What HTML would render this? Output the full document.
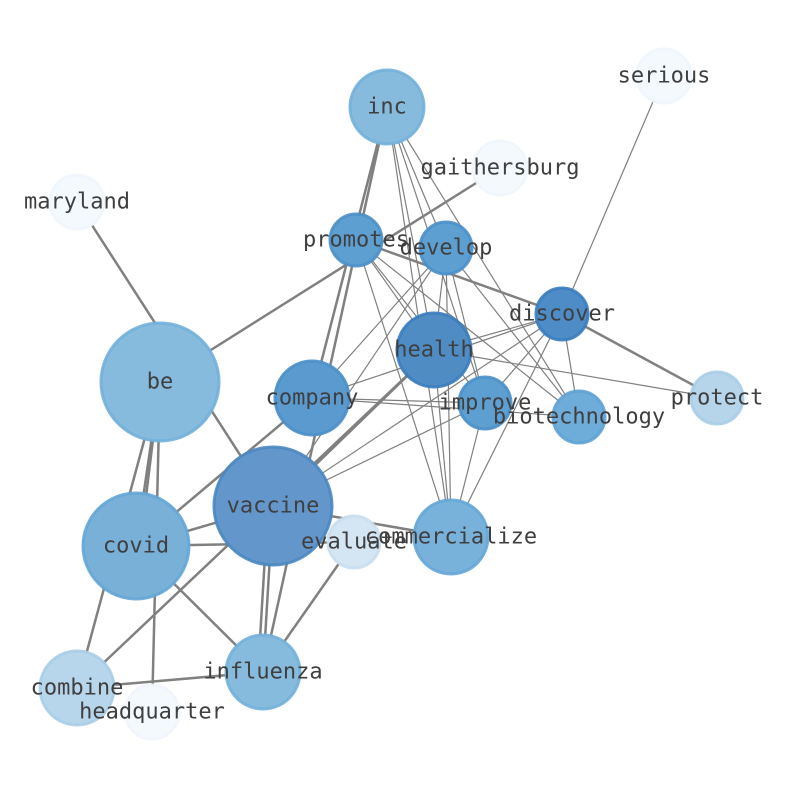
<!DOCTYPE html>
<html><head><meta charset="utf-8"><style>body{margin:0;background:#fff}svg{display:block}</style></head><body>
<svg width="794" height="790" viewBox="0 0 794 790" xmlns="http://www.w3.org/2000/svg">
<g stroke="#808080" stroke-width="1.2" fill="none">
<line x1="387" y1="107" x2="446" y2="248"/><line x1="387" y1="107" x2="434" y2="350"/>
<line x1="387" y1="107" x2="485" y2="403"/><line x1="387" y1="107" x2="579" y2="417"/>
<line x1="387" y1="107" x2="451" y2="537"/>
<line x1="356" y1="240" x2="434" y2="350"/><line x1="356" y1="240" x2="485" y2="403"/>
<line x1="356" y1="240" x2="579" y2="417"/><line x1="356" y1="240" x2="451" y2="537"/>
<line x1="446" y1="248" x2="434" y2="350"/><line x1="446" y1="248" x2="312" y2="398"/>
<line x1="446" y1="248" x2="451" y2="537"/><line x1="446" y1="248" x2="579" y2="417"/>
<line x1="446" y1="248" x2="485" y2="403"/><line x1="446" y1="248" x2="273" y2="506"/>
<line x1="562" y1="314" x2="664" y2="76"/><line x1="562" y1="314" x2="434" y2="350"/>
<line x1="562" y1="314" x2="312" y2="398"/><line x1="562" y1="314" x2="273" y2="506"/>
<line x1="562" y1="314" x2="451" y2="537"/><line x1="562" y1="314" x2="485" y2="403"/>
<line x1="562" y1="314" x2="579" y2="417"/>
<line x1="434" y1="350" x2="717" y2="398"/><line x1="312" y1="398" x2="485" y2="403"/>
<line x1="312" y1="398" x2="579" y2="417"/><line x1="273" y1="506" x2="485" y2="403"/>
<line x1="434" y1="350" x2="451" y2="537"/><line x1="485" y1="403" x2="451" y2="537"/>
</g>
<g stroke="#808080" stroke-width="2.5" fill="none">
<line x1="77" y1="202" x2="273" y2="506"/><line x1="160" y1="382" x2="500" y2="168"/>
<line x1="160" y1="382" x2="136" y2="546"/><line x1="160" y1="382" x2="140" y2="546"/>
<line x1="160" y1="382" x2="77" y2="688"/><line x1="160" y1="382" x2="152" y2="712"/>
<line x1="136" y1="546" x2="273" y2="506"/><line x1="136" y1="546" x2="354" y2="542"/>
<line x1="136" y1="546" x2="312" y2="398"/><line x1="136" y1="546" x2="263" y2="672"/>
<line x1="273" y1="506" x2="263" y2="672"/><line x1="268" y1="506" x2="258" y2="672"/>
<line x1="263" y1="672" x2="354" y2="542"/><line x1="263" y1="672" x2="77" y2="688"/>
<line x1="77" y1="688" x2="434" y2="350"/><line x1="387" y1="107" x2="312" y2="398"/>
<line x1="387" y1="107" x2="263" y2="672"/><line x1="273" y1="506" x2="451" y2="537"/>
<line x1="356" y1="240" x2="562" y2="314"/><line x1="562" y1="314" x2="717" y2="398"/>
<line x1="273" y1="506" x2="434" y2="350"/>
</g>
<g stroke-width="3" stroke-opacity="0.9">
<circle cx="387" cy="107" r="37" fill="#86bbdd" stroke="#72b0da"/>
<circle cx="664" cy="76" r="27" fill="#f4f9fe" stroke="#eef5fc"/>
<circle cx="500" cy="168" r="27" fill="#f4f9fe" stroke="#eef5fc"/>
<circle cx="77" cy="202" r="27" fill="#f4f9fe" stroke="#eef5fc"/>
<circle cx="356" cy="240" r="26" fill="#5e9fd1" stroke="#4a8fc8"/>
<circle cx="446" cy="248" r="26" fill="#5e9fd1" stroke="#4a8fc8"/>
<circle cx="562" cy="314" r="26" fill="#4d8cc6" stroke="#3a7cbd"/>
<circle cx="434" cy="350" r="37" fill="#4f8cc4" stroke="#3a7cbd"/>
<circle cx="160" cy="382" r="59" fill="#86bbdd" stroke="#72b0da"/>
<circle cx="312" cy="398" r="37" fill="#5a9acf" stroke="#4a8fc8"/>
<circle cx="485" cy="403" r="26" fill="#5e9fd1" stroke="#4a8fc8"/>
<circle cx="579" cy="417" r="26" fill="#6eacd9" stroke="#5ea2d4"/>
<circle cx="717" cy="398" r="26" fill="#b6d5ea" stroke="#a8cde7"/>
<circle cx="273" cy="506" r="59" fill="#6397cc" stroke="#4a87c0"/>
<circle cx="451" cy="537" r="37" fill="#78b2da" stroke="#64a6d6"/>
<circle cx="136" cy="546" r="53" fill="#78b0d8" stroke="#64a6d6"/>
<circle cx="354" cy="542" r="26" fill="#d4e5f3" stroke="#c8def0"/>
<circle cx="263" cy="672" r="37" fill="#86bbdd" stroke="#72b0da"/>
<circle cx="77" cy="688" r="37" fill="#b8d6eb" stroke="#a8cde7"/>
<circle cx="152" cy="712" r="27" fill="#f4f9fe" stroke="#eef5fc"/>
</g>
<g font-family="DejaVu Sans Mono, Liberation Mono, monospace" font-size="22" fill="#3f3f3f" text-anchor="middle" dominant-baseline="central">
<text x="387" y="107">inc</text><text x="664" y="76">serious</text>
<text x="500" y="168">gaithersburg</text><text x="77" y="202">maryland</text>
<text x="356" y="240">promotes</text><text x="446" y="248">develop</text>
<text x="562" y="314">discover</text><text x="434" y="350">health</text>
<text x="160" y="382">be</text><text x="312" y="398">company</text>
<text x="485" y="403">improve</text><text x="579" y="417">biotechnology</text>
<text x="717" y="398">protect</text><text x="273" y="506">vaccine</text>
<text x="451" y="537">commercialize</text><text x="136" y="546">covid</text>
<text x="354" y="542">evaluate</text><text x="263" y="672">influenza</text>
<text x="77" y="688">combine</text><text x="152" y="712">headquarter</text>
</g>
</svg>
</body></html>
